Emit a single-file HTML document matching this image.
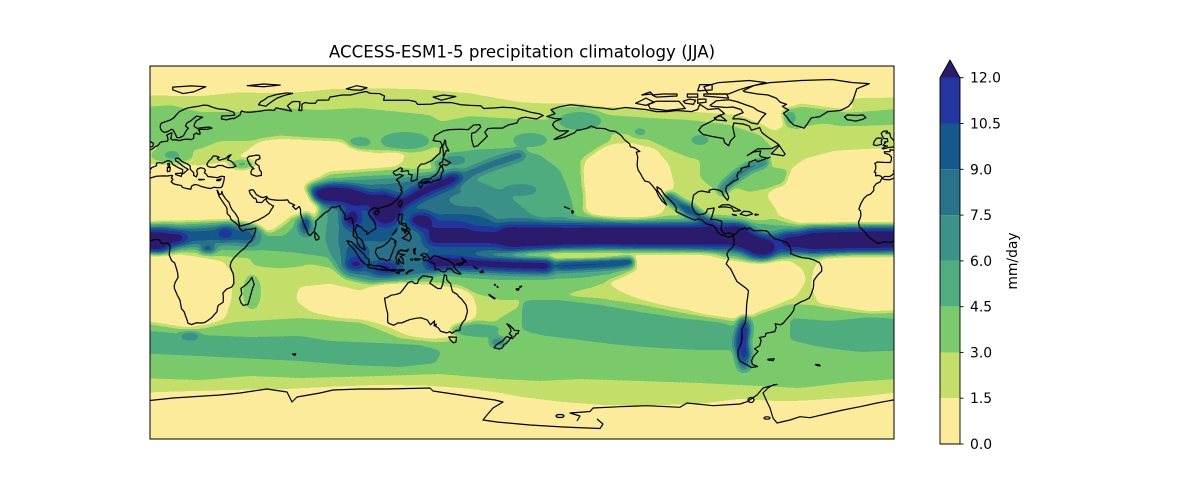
<!DOCTYPE html>
<html>
<head>
<meta charset="utf-8">
<style>
html,body{margin:0;padding:0;background:#fff;}
svg{display:block;}
text{font-family:"DejaVu Sans","Liberation Sans",sans-serif;fill:#000;}
</style>
</head>
<body>
<svg width="1200" height="500" viewBox="0 0 1200 500" xmlns="http://www.w3.org/2000/svg">
<defs>
<clipPath id="frame"><rect x="150" y="66" width="744" height="373"/></clipPath>
<filter id="b3" filterUnits="userSpaceOnUse" x="0" y="0" width="1200" height="500" color-interpolation-filters="sRGB"><feGaussianBlur stdDeviation="3"/></filter>
<filter id="b4" filterUnits="userSpaceOnUse" x="0" y="0" width="1200" height="500" color-interpolation-filters="sRGB"><feGaussianBlur stdDeviation="4"/></filter>
<filter id="b5" filterUnits="userSpaceOnUse" x="0" y="0" width="1200" height="500" color-interpolation-filters="sRGB"><feGaussianBlur stdDeviation="5"/></filter>
<filter id="cm" filterUnits="userSpaceOnUse" x="100" y="40" width="850" height="440" color-interpolation-filters="sRGB">
<feComponentTransfer>
<feFuncR type="discrete" tableValues="0.988 0.765 0.482 0.310 0.235 0.157 0.078 0.141 0.169"/>
<feFuncG type="discrete" tableValues="0.925 0.875 0.796 0.678 0.569 0.447 0.345 0.204 0.106"/>
<feFuncB type="discrete" tableValues="0.604 0.416 0.424 0.498 0.533 0.541 0.549 0.627 0.427"/>
<feFuncA type="linear" slope="0" intercept="1"/>
</feComponentTransfer>
</filter>

<g id="coast" fill="none" stroke="#000" stroke-width="0.6" stroke-linejoin="round" stroke-linecap="round">
<polyline points="35.0,32.0 35.8,34.8 36.0,36.6 34.5,36.8 32.5,36.1 30.5,36.4 28.0,36.7 27.2,37.8 26.3,38.5 26.8,39.6 26.2,40.5 24.5,40.9 23.0,40.3 22.6,39.3 23.0,38.0 22.4,36.5 21.1,37.2 21.2,38.4 19.5,40.2 19.4,41.8 18.0,42.8 15.5,43.9 13.7,45.6 12.3,45.3 12.5,44.2 13.7,43.5 15.5,42.0 17.0,41.0 18.5,40.1 17.1,39.0 16.6,38.4 15.7,38.0 15.8,40.0 14.0,40.8 12.4,41.7 11.0,42.5 10.2,43.9 8.8,44.4 7.5,43.8 6.0,43.1 4.5,43.4 3.1,43.1 3.2,41.9 0.9,41.0 -0.3,39.4 0.2,38.7 -0.7,37.6 -2.0,36.7 -4.5,36.7 -5.6,36.0 -6.3,36.8 -7.5,37.2 -8.9,37.0 -8.8,38.5 -9.5,38.8 -8.8,40.5 -8.8,42.0 -9.3,43.0 -8.0,43.7 -5.0,43.5 -1.8,43.4 -1.3,44.5 -1.2,46.0 -2.2,47.2 -4.5,47.9 -4.7,48.6 -1.9,48.7 -1.9,49.7 -1.0,49.4 0.1,49.5 1.6,50.2 2.5,51.1 3.6,51.5 4.5,52.4 4.8,53.0 6.0,53.5 8.0,53.6 8.7,54.0 8.6,55.5 8.1,56.6 9.9,57.6 10.6,57.7 10.3,56.2 10.0,55.0 10.9,54.3 12.5,54.4 14.0,54.0 16.5,54.6 18.6,54.7 19.8,54.4 21.2,55.2 21.1,56.8 22.5,57.7 23.5,57.0 24.3,57.3 24.0,58.4 23.4,59.2 25.0,59.5 28.0,59.5 30.0,60.0 28.8,60.5 26.5,60.4 22.9,59.9 21.4,60.8 21.5,62.0 22.3,63.5 24.5,64.8 25.5,65.3 22.5,65.8 21.2,64.8 19.7,63.5 17.8,62.5 17.2,61.0 18.6,60.0 17.5,58.8 16.6,57.0 16.0,56.2 14.2,55.4 12.9,55.5 12.6,56.5 11.8,58.0 11.2,59.1 10.4,59.5 9.7,59.0 8.0,58.1 6.6,58.1 5.6,58.8 5.0,60.0 5.0,61.5 5.5,62.4 8.0,63.3 10.0,64.0 11.5,65.0 12.8,66.5 14.0,67.8 15.5,68.6 18.0,69.7 21.0,70.2 23.5,70.6 25.8,71.1 28.0,71.0 30.5,70.0 33.0,69.3 36.5,69.0 40.5,67.7 41.0,66.3 38.0,66.0 34.8,65.9 34.5,64.5 37.0,64.0 40.0,64.8 40.5,64.5 43.5,66.3 44.2,68.3 46.0,67.8 48.5,67.7 53.5,68.2 55.0,68.5 58.0,68.8 60.0,68.5 61.0,69.8 64.0,69.2 67.0,68.5 68.5,68.2 66.5,70.8 68.5,72.5 69.5,72.9 72.5,72.8 72.5,71.0 72.0,68.5 73.5,68.5 73.5,71.5 75.0,72.4 77.0,72.0 80.0,72.0 81.0,73.5 86.5,73.6 87.0,75.0 93.0,76.0 97.0,76.0 101.0,77.0 104.5,77.7 106.5,76.8 111.0,76.7 113.5,75.5 113.0,73.5 118.0,73.5 125.0,73.5 128.5,72.8 129.5,71.5 132.0,71.5 136.0,71.6 140.0,72.4 146.0,72.3 150.5,71.3 155.0,71.0 160.0,70.8 161.5,69.5 167.0,69.8 170.5,70.1 176.0,69.8 180.0,68.9"/>
<polyline points="-180,68.9 -175.5,67.6 -171.5,66.9 -169.7,66.1 -171.0,65.5 -173.0,64.4 -176.0,64.9 -178.5,65.3 -180,65.0"/>
<polyline points="180,65.0 178.5,64.5 177.5,62.5 173.5,61.6 170.5,60.0 166.0,60.0 163.5,59.8 162.0,58.0 163.2,56.1 162.0,54.9 160.0,53.0 158.5,51.5 156.7,51.0 156.0,53.0 155.6,55.0 155.6,57.5 157.5,58.0 160.0,60.5 159.5,61.7 156.5,61.5 154.0,59.3 150.0,59.5 145.0,59.3 142.0,58.7 138.0,56.5 137.0,54.0 140.5,53.5 141.4,52.0 140.5,50.0 140.3,48.0 138.5,46.5 136.5,44.5 133.0,42.8 131.0,42.6 129.7,41.0 129.4,37.0 129.3,35.3 127.5,34.6 126.3,34.5 126.5,36.0 126.8,37.5 125.3,37.7 124.8,39.6 121.5,39.0 122.2,40.5 121.1,40.9 119.5,39.8 118.0,39.1 117.7,38.4 119.0,37.2 120.7,37.8 122.5,37.1 120.4,36.0 119.2,35.0 120.3,34.3 120.9,32.5 121.9,31.0 121.3,30.2 122.0,29.5 121.5,28.2 120.4,26.9 119.6,25.5 118.3,24.5 116.5,23.0 114.2,22.3 112.0,21.7 110.5,21.2 110.2,20.3 109.7,21.5 108.0,21.5 106.6,20.5 105.7,19.0 106.5,17.5 108.5,15.2 109.2,13.0 109.2,11.5 107.5,10.5 106.7,10.0 105.0,8.7 104.8,10.2 103.5,10.6 102.3,12.2 100.9,12.7 100.2,13.5 99.2,10.8 99.8,9.3 100.4,7.3 101.3,6.9 102.5,5.9 103.4,4.0 103.5,2.6 104.2,1.4 103.5,1.3 101.3,2.9 100.4,4.5 100.1,6.5 98.3,8.2 98.5,10.5 98.5,13.5 97.7,16.5 97.2,16.9 95.2,15.8 94.3,16.1 94.5,17.5 94.1,18.8 92.5,20.6 92.0,21.5 91.7,22.6 90.5,22.1 89.0,21.8 88.0,22.0 87.0,20.8 86.0,19.8 84.8,19.3 83.5,18.1 82.2,17.0 80.2,15.1 80.3,13.3 79.8,11.5 79.5,10.3 78.2,8.9 77.5,8.1 76.5,8.9 75.7,11.3 74.8,12.9 74.1,15.0 73.4,16.8 72.8,19.0 72.9,20.7 72.6,21.4 72.2,22.2 70.5,20.8 69.0,22.3 70.0,22.9 68.5,23.6 67.4,24.0 66.6,25.4 64.5,25.2 61.6,25.2 58.8,25.5 57.3,25.9 56.4,27.1 54.8,26.5 53.5,26.8 51.5,27.9 50.1,30.1 48.9,30.3 48.0,29.9 48.4,28.5 49.6,27.0 50.2,26.2 51.1,26.1 51.6,25.2 51.5,24.3 52.6,24.2 54.0,24.1 55.5,25.5 56.3,26.2 56.4,24.9 57.5,23.7 59.0,22.8 59.8,22.4 58.5,20.4 57.7,19.0 56.5,18.1 55.3,17.3 52.2,15.6 49.5,14.6 48.5,14.0 45.5,13.2 43.5,12.7 42.9,14.8 42.7,16.5 41.2,19.0 39.8,20.5 39.0,22.0 38.2,24.2 36.5,26.0 35.2,28.0 34.8,29.5 34.6,28.3 33.6,27.9 32.7,29.9 32.5,30.0"/>
<polyline points="32.5,30.0 32.6,29.5 33.5,27.0 35.5,24.0 37.2,21.5 37.4,18.8 38.6,17.6 39.3,15.8 41.2,14.5 43.2,12.5 43.3,11.8 44.6,10.4 47.0,11.1 49.5,11.3 51.2,11.8 51.0,10.4 50.6,9.0 48.9,5.6 47.5,4.3 46.0,2.3 43.5,0.3 41.5,-1.7 40.1,-3.3 39.2,-4.7 38.8,-6.5 39.4,-8.4 40.3,-10.3 40.5,-12.5 40.6,-15.0 39.5,-16.7 37.0,-17.7 35.3,-19.5 35.5,-22.0 35.4,-24.0 33.0,-25.5 32.6,-27.0 32.4,-28.6 31.2,-29.9 30.0,-31.3 28.0,-32.8 26.4,-33.8 25.0,-34.0 22.6,-33.9 20.0,-34.8 18.4,-34.1 17.9,-32.5 16.5,-28.6 15.2,-27.0 14.5,-23.0 13.3,-20.8 11.8,-17.3 11.7,-16.0 12.2,-14.4 13.6,-12.0 13.3,-9.5 12.3,-6.1 11.9,-5.0 10.5,-4.0 9.3,-1.2 9.5,1.0 9.8,3.1 8.7,4.5 7.0,4.4 5.9,4.3 4.3,6.3 2.7,6.3 1.0,5.9 -2.0,4.8 -4.5,5.2 -7.5,4.4 -9.2,5.3 -11.4,6.8 -13.2,8.5 -13.7,9.5 -15.0,10.8 -16.7,12.4 -17.2,14.7 -16.5,16.1 -16.0,18.0 -16.2,20.0 -17.0,21.0 -16.0,23.7 -14.5,26.2 -13.0,27.6 -11.4,28.1 -9.8,29.9 -9.8,31.6 -8.5,33.3 -6.8,34.0 -5.9,35.8 -4.6,35.2 -2.0,35.1 0.0,35.9 3.0,36.8 6.2,37.0 8.5,36.9 10.2,37.2 11.0,37.0 10.3,36.0 11.1,35.3 10.2,34.2 11.2,33.3 12.5,32.8 15.2,32.3 15.7,31.4 18.0,30.8 19.8,30.5 20.1,32.0 21.5,32.8 23.0,32.6 25.0,31.8 27.5,31.2 29.5,30.9 31.0,31.5 32.3,31.3 34.2,31.3 35.0,32.0"/>
<polygon points="49.3,-12 50.4,-15.5 49.6,-17.3 48.7,-20.6 47.5,-24.9 45.2,-25.6 44,-24.3 43.3,-22 44.4,-20 44,-17.3 46.3,-15.7 48,-13.9"/>
<polygon points="28,41.6 27.5,42.5 28,43.5 28.6,44.3 29.7,45.2 30.5,46.5 31.7,46.6 33.5,46 32.5,45.4 33.5,44.5 35.5,45.1 36.5,45.3 38.2,46.8 39.2,47.2 38,45.7 37.5,44.7 38.8,44.3 40,43.5 41.6,41.6 40,41 38,40.9 36.5,41.3 35,42 33,42 31.3,41.1 29.1,41.2"/>
<polygon points="49,46.5 51.5,47 53,46.8 53.2,45.3 51.3,44.5 51,43 52.7,41.8 53,40 53.9,38.8 53.9,37.2 51.5,36.8 49,37.7 48.8,38.8 49.4,40.2 50.3,40.4 49,41.5 48,42.9 47.5,44 47,45.5 48,46.5"/>
<polygon points="-5,50 -3,50.6 1.3,51.1 1.7,52.7 0.2,53.5 -0.5,54.5 -1.6,55.6 -2.1,57.7 -3.9,57.6 -3.1,58.6 -5,58.6 -6.2,57.5 -5.6,56 -4.9,55 -3.2,54.9 -3,53.5 -4.6,53.3 -4.2,52.9 -5.3,51.7 -3.2,51.4 -4.2,51.2 -5.7,50.1"/>
<polygon points="-6.2,53.9 -6,52.2 -8.5,51.6 -10,52 -9.5,53.8 -8.3,55.2 -6.2,55.2 -5.7,54.5"/>
<polygon points="-22.5,64 -24,65.4 -22.5,66.4 -18,66.1 -15,66.4 -13.6,65.1 -15,64.3 -18.5,63.4 -21,63.9"/>
<polygon points="11,78.5 16,76.7 21,77.5 27,80 20,80.4 11,79.8"/>
<polygon points="52.5,71.3 56,70.6 58.5,72.5 61.5,74.5 65,75.8 69,76.8 66,77 61,76.2 57,75 55,73.5 53.5,72.7"/>
<polygon points="95,79 100,80.5 105,79.5 102,78.3 98,78.5"/>
<polygon points="137,75 142,76 148,75.3 141,73.5"/>
<polygon points="47,80.5 55,81.3 63,80.8 55,80"/>
<polygon points="12.4,38.1 15.6,38.3 15.1,36.7 12.4,37.6"/>
<polygon points="8.4,41 9.8,41 9.6,39.2 8.4,39"/>
<polygon points="8.6,42.9 9.4,43 9.5,41.4 8.8,41.6"/>
<polygon points="23.5,35.3 26.3,35.2 24,35"/>
<polygon points="32.3,35 34.5,35.6 33.8,34.7 32.3,34.7"/>
<polygon points="142,46 143.4,49.3 144.6,49 143.2,51.7 143,54 142.6,54.3 142.3,52.7 141.6,51 142,48 141.9,46.6"/>
<polygon points="141.2,41.4 140,42.6 140.4,43.3 141.6,43.6 141.8,45.4 143.2,44.5 145.5,43.4 145,43 143.3,42 141.7,42.6"/>
<polygon points="141.4,41.4 142,39.5 141,38 140.9,36.5 140.3,35.1 139.8,35 139.2,35.2 138.6,34.6 137,34.6 136.7,34.1 135.7,33.5 135,34.6 133.3,34.4 132,33.9 130.9,34 131.5,34.7 132.6,35.4 134,35.5 135.8,35.6 136.7,36.7 137.3,36.8 138.6,37.8 139.6,39.2 140.1,40.5 140.4,41.2"/>
<polygon points="130,33.6 130.5,31.2 131.2,31.4 131.9,32.8 131,33.9"/>
<polygon points="132.5,33.3 133.5,33.4 134.7,33.8 134.6,34.2 133.2,34.2"/>
<polygon points="121.5,25.2 122,24 121,22 120.2,22.8 120.1,23.7 121,25"/>
<polygon points="108.7,19 109.5,18.2 110.5,18.7 111,19.7 110.2,20.1 109,19.8"/>
<polygon points="79.9,9.8 80.9,8.5 81.8,7.4 81.6,6.3 80.4,6 79.9,6.9 79.7,8.2"/>
<polygon points="120.6,18.5 122.2,18.4 121.9,16.2 121.6,14.3 123.9,13.8 124.1,12.6 123,13 120.9,13.9 120.6,14.5 120,16 120.4,17.6"/>
<polygon points="122,7 123.5,7.8 125.4,9.8 126.5,7.3 126,6.3 125.4,5.6 124,6.2"/>
<polygon points="124.2,12.5 125.8,11 125,10 124.3,10.5"/>
<polygon points="122,11.8 123.2,11 122.5,10.5 121.9,10.9"/>
<polygon points="122.8,10.8 123.5,9.2 124,10.7 123.5,11.2"/>
<polygon points="117.2,8.4 119.5,11.3 118.8,10"/>
<polygon points="109.6,2 109,0 110,-1.8 111,-3 113,-3.2 114.5,-4 116,-3.5 116.5,-2 117.5,0.5 117.9,1.8 119,4 118.2,4.9 119.2,5.3 117.7,6.4 116.7,7 115.6,5.5 115,4.9 113,3.2 111.2,2.4"/>
<polygon points="95.3,5.6 97.5,5.2 100.3,2.2 103.7,-1 104.5,-2.5 106,-3.2 106,-5.8 104.6,-5.9 102.3,-4 100.3,-1 98.6,1.7 96.5,3.7"/>
<polygon points="105.2,-6.8 106,-5.9 108.5,-6.4 110.9,-6.4 112.7,-6.9 114.5,-7.8 114.4,-8.7 111,-8.2 108.7,-7.7 106.5,-7.4"/>
<polygon points="114.5,-8.2 115.7,-8.4 115.2,-8.8"/>
<polygon points="116,-8.4 119,-8.2 119,-8.8 117,-9"/>
<polygon points="120,-8.4 123,-8.3 122.8,-8.8 120,-8.9"/>
<polygon points="119,-9.5 120.8,-9.7 120.2,-10.3"/>
<polygon points="124,-9.9 125.5,-8.7 127.3,-8.4 125,-9.5 124,-10.3"/>
<polygon points="119.4,-5.5 120.4,-5.6 120.3,-2.9 121.3,-4.8 122.7,-5.5 122.4,-3.2 121.1,-2 123.3,-1.0 121.7,-0.9 120.3,-0.5 120.1,0.6 121.2,1.2 124.5,0.5 125.1,1.6 124.1,1.0 120.8,0.9 119.8,-0.1 119.4,-1.5 118.8,-2.8 119.4,-3.5"/>
<polygon points="127.5,1.5 128.5,2 128,0 128.5,-0.8 127.7,-0.3"/>
<polygon points="128,-3 130.8,-3.2 130,-3.6 128.2,-3.6"/>
<polygon points="126,-3.2 127.2,-3.3 126.8,-3.9"/>
<polygon points="131,-1.3 132.5,-0.4 134,-0.9 135.5,-3.4 137.5,-1.5 140.5,-2.4 144.5,-3.8 146,-5 147.6,-6.1 147,-6.8 148,-8.2 150.5,-10.3 149,-10.3 147.2,-9.5 146,-8.1 144,-7.6 143.3,-8.9 142.5,-9.4 141,-9.1 139.5,-8 138,-8.4 137.7,-5.4 136,-4.6 133.6,-3.6 132.7,-4.1 132,-2.8 133.5,-2.3 131.8,-1.6"/>
<polygon points="148.3,-5.6 151,-5 152.2,-4.2 151.3,-5.5 150,-6.3"/>
<polygon points="150.8,-2.6 152.5,-3.8 153,-4.7 151.5,-3.3"/>
<polygon points="156.5,-6.6 157.5,-7.5 158.5,-7.7 157.2,-7.1"/>
<polygon points="159.8,-9.2 160.8,-9.7 159.7,-9.6"/>
<polygon points="160.8,-8.5 161.4,-9.5 161,-9.4"/>
<polygon points="166.8,-15.3 167.2,-15.8 166.6,-15.6"/>
<polygon points="168,-16.3 168.4,-16.9 167.9,-16.6"/>
<polygon points="164,-20.2 167,-22.2 166.5,-22.3 164.2,-20.6"/>
<polygon points="177.3,-17.5 178.6,-17.3 178.3,-18.2 177.2,-18"/>
<polygon points="178.8,-16.5 179.9,-16.2 179.3,-16.8"/>
<polygon points="113.5,-22 114.2,-26.3 115,-29.5 115,-33.5 115.7,-34.3 118,-35.1 119.9,-34 122,-33.9 124,-33 126,-32.3 129,-31.7 131.2,-31.5 134.2,-32.6 135.7,-34.9 137.7,-33 137.5,-35.4 138.5,-34.5 138.2,-35.6 139.6,-36.5 140.6,-38 143.5,-38.8 145,-38.2 146.3,-39 147.7,-37.9 149.9,-37.5 150.2,-35.7 151.3,-33.7 152.5,-32.3 153.6,-28.5 153.1,-26 152.9,-25.3 150.8,-22.5 149.2,-21.1 148.8,-20.3 146.4,-18.9 146,-17.5 145.4,-15 144.5,-14.2 143.6,-13.1 143.5,-11.3 142.5,-10.7 142,-13 141.6,-15.5 140.8,-17.4 139.3,-17.4 137.1,-16 135.4,-14.8 136.8,-12.3 136.5,-11.9 133,-11.4 132,-11.3 130.2,-12.9 129.4,-14.9 128.1,-15 126.8,-13.9 125,-14.5 123.4,-16.6 122.2,-18.2 121,-19.6 118.8,-20.3 116.7,-20.6 114.6,-21.8"/>
<polygon points="144.6,-40.7 148.3,-40.9 148,-43.2 146.9,-43.6 145.3,-42.2"/>
<polygon points="172.7,-34.4 174.3,-35.3 175.8,-36.8 176.3,-37.6 178.5,-37.7 178,-39.2 177,-39.2 176.9,-39.9 175.3,-41.6 174.6,-41.3 175.2,-40.4 173.8,-39.2 174.6,-38.2 174.5,-36.8"/>
<polygon points="172.6,-40.5 174.3,-41.2 173.8,-42.3 172.7,-43.6 171.2,-44.5 170.5,-46 169,-46.6 166.5,-46 167,-45.1 168.3,-44 170.5,-42.8 172,-41"/>
<polygon points="69,-49 70.5,-49 70,-49.7" fill="#000"/>
<polygon points="-168.0,65.6 -164.0,67.0 -166.0,68.9 -162.0,70.3 -156.5,71.3 -152.0,70.8 -145.0,70.0 -141.0,69.7 -136.0,69.0 -130.0,70.0 -125.0,69.5 -120.0,69.0 -115.0,68.0 -110.0,68.0 -105.0,68.5 -98.0,68.0 -95.0,69.0 -94.0,71.5 -90.0,69.0 -85.0,69.5 -82.0,67.0 -85.0,66.0 -87.0,64.0 -93.0,61.0 -94.5,59.0 -92.5,57.0 -88.0,56.0 -82.5,55.0 -82.0,53.0 -80.0,51.5 -79.0,54.0 -77.0,56.0 -77.5,58.0 -78.0,60.5 -77.5,62.5 -73.0,62.0 -70.0,61.0 -69.0,59.0 -65.0,60.3 -64.0,58.0 -61.5,56.0 -57.0,53.0 -55.7,52.0 -59.0,50.2 -66.0,50.0 -71.0,46.8 -68.0,48.5 -64.5,49.0 -65.0,47.0 -64.5,46.3 -61.0,45.5 -60.0,46.0 -66.0,43.8 -67.0,44.8 -70.0,43.5 -70.5,41.8 -70.0,41.7 -74.0,40.6 -74.0,39.5 -75.5,38.5 -76.0,37.0 -75.5,35.3 -77.5,34.5 -79.0,33.3 -81.0,32.0 -81.5,30.0 -80.5,28.0 -80.0,26.5 -80.5,25.2 -81.7,26.5 -82.8,28.0 -83.0,29.2 -84.5,30.0 -86.0,30.4 -88.0,30.5 -89.5,30.0 -89.2,29.0 -90.5,29.2 -93.0,29.7 -94.8,29.3 -97.0,27.7 -97.5,25.0 -97.8,22.5 -97.3,21.0 -96.2,19.2 -94.5,18.2 -92.0,18.6 -90.7,19.5 -90.3,21.0 -87.0,21.5 -87.5,19.5 -88.2,17.0 -88.8,15.9 -86.0,15.9 -83.3,15.0 -83.5,12.5 -83.7,11.0 -82.0,9.0 -79.5,9.5 -77.5,8.5 -78.5,8.0 -80.0,7.3 -81.5,8.0 -83.5,8.5 -85.7,10.0 -85.8,11.3 -87.5,13.0 -91.0,13.9 -93.0,15.7 -94.5,16.2 -96.5,15.7 -99.0,16.7 -101.5,17.8 -105.5,19.8 -105.3,21.5 -106.5,23.3 -108.5,25.5 -111.0,27.8 -112.8,30.5 -114.7,31.7 -114.5,30.0 -112.0,26.5 -110.0,23.0 -112.2,24.8 -114.0,27.5 -115.0,29.8 -117.1,32.5 -118.5,34.0 -120.6,34.5 -121.9,36.6 -122.5,37.8 -123.8,39.8 -124.3,42.0 -124.0,46.2 -124.7,48.4 -123.0,48.8 -125.5,50.5 -127.5,51.0 -128.0,52.5 -130.5,54.5 -132.0,56.5 -135.0,58.5 -137.5,58.7 -140.0,59.8 -144.0,60.0 -146.5,61.0 -148.5,60.0 -151.5,59.2 -153.5,59.0 -154.5,57.8 -156.5,57.0 -159.0,55.8 -162.0,55.0 -164.5,54.5 -163.0,55.5 -160.0,57.0 -157.5,58.7 -162.0,58.7 -164.0,60.0 -165.2,61.5 -164.5,63.0 -161.0,64.5 -164.0,64.6 -166.5,65.3"/>
<polygon points="-77.5,8.5 -76.0,9.5 -75.5,10.5 -74.0,11.2 -72.0,12.0 -71.0,11.0 -70.0,12.0 -68.0,10.5 -64.0,10.6 -62.0,10.5 -61.0,10.0 -60.0,8.5 -58.0,6.8 -55.0,5.9 -52.0,4.8 -51.0,4.0 -50.0,1.8 -50.0,-0.5 -48.5,-1.2 -44.5,-2.5 -41.0,-2.9 -38.5,-3.7 -36.0,-5.0 -35.0,-7.0 -35.0,-9.0 -37.0,-11.0 -38.8,-13.5 -39.0,-17.0 -40.0,-20.0 -41.0,-22.0 -43.0,-23.0 -45.0,-23.8 -48.0,-25.5 -48.6,-28.0 -50.0,-30.0 -52.0,-32.2 -53.5,-34.0 -54.9,-34.9 -57.5,-34.4 -57.0,-36.3 -57.7,-38.2 -62.0,-39.0 -62.3,-40.5 -65.0,-41.0 -64.3,-42.5 -65.0,-45.0 -67.5,-46.5 -65.8,-47.7 -68.0,-50.2 -69.0,-52.3 -68.5,-54.0 -66.0,-55.0 -69.0,-55.5 -71.5,-54.0 -74.5,-52.5 -75.5,-50.0 -75.5,-47.0 -74.0,-44.0 -73.5,-41.0 -73.7,-37.0 -72.0,-34.0 -71.5,-30.0 -71.3,-25.0 -70.4,-18.5 -71.5,-17.3 -76.0,-14.0 -77.0,-12.0 -79.0,-8.0 -81.2,-5.5 -80.0,-3.0 -80.9,-1.0 -80.0,1.0 -79.0,1.6 -78.0,3.0 -77.3,4.0 -77.5,7.0 -77.9,7.2"/>
<polygon points="-73,78 -68,80.5 -60,82 -45,83 -30,83.5 -20,82 -12,81.5 -18,79 -19,76 -20,73 -22,70.5 -26,68.5 -32,68 -36,65.5 -40,65 -42,62 -43.5,60 -46,60.8 -48.5,61.5 -50.5,63.5 -52,65.5 -53.5,67.2 -51,68.8 -54,70.5 -52,71.5 -55,72.5 -57,74.5 -61,76 -66,76.5 -72,77.5"/>
<polygon points="-62,67 -64,65 -66,62 -69,62.5 -72,64 -75,64.5 -78,64.5 -77,66 -73,67.5 -74,69 -78,70.2 -81,70 -88,70.5 -89,71 -86,73.2 -80,73.7 -76,72.8 -71,71 -68,70 -66,68.5"/>
<polygon points="-118,69.5 -119,71.5 -115,73 -104,73 -101,69.5 -110,68.5"/>
<polygon points="-125,72 -120,74.5 -116,72.5 -120,71"/>
<polygon points="-90,76.5 -80,76.5 -75,78.5 -70,80 -62,82 -70,83 -85,82 -92,80"/>
<polygon points="-92,75.5 -80,74.5 -81,76.5 -92,76.5"/>
<polygon points="-86,64 -81,63.5 -84,66 -87,65"/>
<polygon points="-115,75 -105,75.5 -105,76.5 -112,76.5 -117,76"/>
<polygon points="-100,75 -95,75 -95,76.5 -100,76.5"/>
<polygon points="-101,72 -97,71.5 -96,73.5 -99,74 -102,73"/>
<polygon points="-95,72 -91,72.5 -91,74 -95,74"/>
<polygon points="-95,78 -88,78.5 -88,81 -94,81"/>
<polygon points="-122,76 -117,76.5 -118,77.5"/>
<polygon points="-59.4,47.6 -55.5,51.6 -52.7,47.5 -53.5,46.7 -55.5,47"/>
<polygon points="-84.9,21.9 -83,23 -80,23.1 -77,21.6 -74.2,20.2 -77.5,19.9 -78.5,21.5 -81.5,22"/>
<polygon points="-74.4,18.5 -72.7,19.9 -70,19.7 -68.4,18.6 -71.5,17.7"/>
<polygon points="-78.3,18.4 -76.2,18 -76.8,17.9"/>
<polygon points="-67.2,18.5 -65.6,18.3 -67.2,18"/>
<polygon points="-155.9,20.2 -155,19.7 -155.7,18.9"/>
<polyline points="-157,21.1 -158.2,21.5 -159.5,22.1"/>
<polygon points="-61,-51.5 -58,-51.3 -58.5,-52.2 -61,-51.9"/>
<polygon points="-38,-54 -36,-54.2 -35.8,-54.8 -37.5,-54.5"/>
</g>
</defs>

<!-- precipitation field -->
<g clip-path="url(#frame)">
<g filter="url(#cm)">
<rect x="100" y="40" width="850" height="440" fill="#000"/>
<!-- L1 base -->
<g filter="url(#b3)">
<polygon fill="#2b2b2b" points="135,94 200,95 240,91 270,92 300,91 330,88 370,87 420,88 470,92 520,101 560,103 600,105 640,108 700,111 740,114 760,122 775,130 790,120 800,108 830,100 860,97 910,96 910,262 135,262"/>
<polygon fill="#2b2b2b" points="135,252 910,252 910,392 860,398 800,402 770,402 740,400 700,405 640,407 600,406 560,403 520,398 500,394 470,390 430,387 380,386 330,388 290,390 240,391 200,392 135,394"/>
</g>
<!-- dry carves -->
<g filter="url(#b3)" fill="#000">
<polygon points="135,166 175,164 200,167 225,163 245,154 262,140 300,138 330,137 360,140 390,146 405,156 395,168 370,172 345,176 330,182 320,190 313,200 306,220 298,232 285,236 270,236 255,230 240,222 215,221 190,222 165,222 135,222"/>
<polygon points="588,158 605,146 630,144 655,150 668,165 673,185 668,200 660,214 640,222 610,225 592,220 585,205 582,185 583,170"/>
<polygon points="768,195 785,175 805,160 835,152 870,150 910,150 910,226 865,227 830,226 800,224 778,214"/>
<polygon points="135,252 165,252 195,257 222,262 232,275 230,300 224,318 208,325 183,328 160,325 135,322"/>
<polygon points="825,256 850,251 910,251 910,315 870,316 840,314 820,305 812,285 815,268"/>
<polygon points="600,260 640,257 680,255 720,256 750,259 790,262 802,270 805,280 796,295 782,302 765,312 748,320 730,318 710,316 690,310 660,304 640,298 620,290 606,280"/>
<polygon points="300,288 330,285 360,292 385,283 400,276 430,273 455,279 470,290 476,310 471,325 456,335 430,339 410,336 390,326 370,320 340,318 310,310 297,300"/>
<polygon points="765,85 800,88 840,95 855,110 830,125 805,128 790,118 770,105"/>
</g>
<!-- L2 -->
<g filter="url(#b3)">
<g fill="#474747">
<polygon points="135,108 170,105 200,112 240,112 280,108 320,110 360,108 400,112 430,115 446,125 440,146 420,151 400,149 380,153 360,150 340,141 310,139 280,136 250,141 220,141 200,149 180,151 160,146 135,141"/>
<ellipse cx="172" cy="155" rx="22" ry="8"/>
<ellipse cx="242" cy="164" rx="15" ry="5"/>
<polygon points="440,122 470,116 500,118 540,120 580,116 605,122 612,140 595,150 580,160 585,200 580,220 550,222 520,215 500,200 470,188 450,184 440,170"/>
<polygon points="550,108 580,106 610,115 650,118 690,120 730,125 760,135 775,150 765,158 745,160 720,162 690,158 670,150 650,140 620,133 595,135 570,132 552,122"/>
<polygon points="700,160 730,155 760,165 790,170 785,185 760,190 735,195 715,190 700,178"/>
<polygon points="780,112 800,104 830,108 860,112 910,108 910,124 860,126 820,126 795,130"/>
<polygon points="135,226 170,222 200,222 230,221 255,226 270,232 285,222 300,205 305,185 330,172 360,170 400,168 440,170 480,180 520,188 555,200 590,215 620,222 660,224 700,222 730,212 750,208 770,218 800,226 850,226 910,226 910,252 850,252 810,254 780,258 750,262 720,258 680,256 640,256 610,262 590,272 560,282 520,290 480,290 440,285 400,282 360,280 330,268 300,262 270,258 245,258 215,256 190,252 160,252 135,252"/>
<polygon points="135,320 190,330 235,322 300,318 360,322 400,338 440,342 475,338 500,318 530,300 560,296 600,298 650,306 700,316 740,322 760,312 790,304 830,306 870,312 910,310 910,378 850,382 800,388 760,386 740,385 700,383 640,381 580,379 540,381 500,379 440,374 380,376 300,378 250,376 200,380 135,378"/>
<polygon points="440,255 500,258 560,260 620,262 640,268 620,278 590,288 560,295 530,300 500,300 470,292 445,280"/>
<ellipse cx="252" cy="292" rx="9" ry="18"/>
<ellipse cx="280" cy="262" rx="30" ry="6"/>
</g>
<polygon fill="#2b2b2b" points="705,192 730,186 760,195 778,212 765,222 735,222 712,214"/>
<polygon fill="#000" points="495,250 530,248 580,247 620,248 660,250 700,252 725,255 700,259 650,260 600,260 560,258 520,256"/>
</g>
<!-- L3 -->
<g filter="url(#b3)" fill="#636363">
<polygon points="135,330 200,335 250,337 300,336 330,341 380,343 420,345 442,351 436,363 400,367 350,365 300,361 260,359 200,356 135,353"/>
<polygon points="522,300 560,300 600,305 640,312 680,318 720,322 745,330 742,350 700,350 660,348 620,345 580,340 540,335 522,330"/>
<ellipse cx="475" cy="330" rx="25" ry="8"/>
<polygon points="790,318 830,321 870,317 910,320 910,350 860,352 820,347 790,340"/>
<ellipse cx="360" cy="142" rx="12" ry="5"/>
<ellipse cx="405" cy="141" rx="25" ry="9"/>
<ellipse cx="172" cy="155" rx="9" ry="4"/>
<ellipse cx="242" cy="164" rx="8" ry="3"/>
<ellipse cx="530" cy="140" rx="18" ry="7"/>
<ellipse cx="580" cy="121" rx="22" ry="9"/>
<ellipse cx="640" cy="132" rx="7" ry="4"/>
<ellipse cx="700" cy="140" rx="10" ry="5"/>
<ellipse cx="790" cy="118" rx="6" ry="8"/>
<ellipse cx="532" cy="205" rx="12" ry="8"/>
<polygon points="430,160 470,150 510,148 540,155 560,170 570,195 575,215 560,222 530,212 500,200 470,190 445,185"/>
<polygon points="135,232 180,230 230,228 262,236 285,236 295,225 305,205 315,188 335,180 365,178 400,177 440,178 470,188 500,196 530,206 560,220 600,226 650,227 720,225 760,223 800,229 850,229 910,229 910,248 850,249 800,252 770,258 745,258 725,250 700,246 650,245 600,245 560,246 520,248 490,250 460,252 440,258 400,262 360,262 320,256 290,252 260,250 230,250 200,248 170,247 135,247"/>
<polygon points="430,258 470,258 510,261 560,262 600,262 625,266 610,274 580,278 540,279 500,280 470,278 440,274 400,277 370,280 345,276 335,266 345,260 380,262"/>
</g>
<!-- India / Arabian sea dry, tongue re-carve -->
<g filter="url(#b3)" fill="#000">
<polygon points="258,178 285,178 300,188 312,194 320,200 318,212 313,222 310,232 305,228 300,216 290,214 275,216 258,212"/>
<polygon points="505,250 540,249 580,249 620,250 660,251 700,252 725,256 700,258 650,258 600,258 560,257 520,256"/>
</g>
<!-- L4-L7 -->
<g filter="url(#b3)">
<polygon fill="#808080" points="328,186 350,180 380,178 410,176 440,172 470,178 500,190 520,205 540,222 560,228 560,247 520,252 480,256 455,265 430,276 400,280 370,282 345,276 333,262 325,240 328,215 322,200"/>
<polygon fill="#9c9c9c" points="336,192 360,186 390,184 420,180 445,182 465,192 480,208 500,222 525,230 525,248 490,252 460,258 440,270 410,276 380,278 355,272 342,260 338,240 340,220"/>
<ellipse cx="470" cy="200" rx="22" ry="7" fill="#808080"/>
<ellipse cx="520" cy="190" rx="18" ry="6" fill="#808080"/>
<ellipse cx="455" cy="160" rx="12" ry="5" fill="#808080"/>
<path d="M450,182 L490,165 L520,155" stroke="#9c9c9c" stroke-width="10" stroke-linecap="round" fill="none"/>
<polygon fill="#b8b8b8" points="345,198 380,194 400,198 398,230 385,242 360,240 345,225"/>
<ellipse cx="455" cy="226" rx="40" ry="12" fill="#b8b8b8"/>
<ellipse cx="385" cy="268" rx="20" ry="6" fill="#b8b8b8"/>
<ellipse cx="358" cy="252" rx="12" ry="9" fill="#b8b8b8"/>
<ellipse cx="445" cy="228" rx="28" ry="8" fill="#d4d4d4"/>
<path d="M135,238 L180,237 L230,234 L252,236" stroke="#808080" stroke-width="22" stroke-linecap="round" fill="none"/>
<path d="M135,238 L180,237 L230,234 L248,236" stroke="#b8b8b8" stroke-width="13" stroke-linecap="round" fill="none"/>
<path d="M668,197 L680,205 L695,214 L712,225" stroke="#b8b8b8" stroke-width="9" stroke-linecap="round" fill="none"/>
<path d="M722,190 L735,177 L750,167 L765,162" stroke="#9c9c9c" stroke-width="8" stroke-linecap="round" fill="none"/>
<path d="M560,266 L600,264 L630,262" stroke="#d4d4d4" stroke-width="9" stroke-linecap="round" fill="none"/>
<path d="M770,244 L810,242 L850,240 L910,239" stroke="#9c9c9c" stroke-width="20" stroke-linecap="round" fill="none"/>
<path d="M744,322 L740,345 L744,365" stroke="#9c9c9c" stroke-width="12" stroke-linecap="round" fill="none"/>
<ellipse cx="158" cy="248" rx="9" ry="3.5" fill="#d4d4d4"/>
<ellipse cx="208" cy="249" rx="8" ry="3" fill="#d4d4d4"/>
<ellipse cx="498" cy="342" rx="8" ry="4" fill="#9c9c9c"/>
<ellipse cx="190" cy="336" rx="10" ry="3" fill="#9c9c9c"/>
</g>
<!-- strong features -->
<g filter="url(#b4)" fill="#fff">
<polygon points="310,188 330,184 350,186 368,192 372,204 360,207 345,204 328,204 314,201"/>
<polygon points="368,194 385,192 400,198 403,212 395,222 383,226 372,218"/>
<ellipse cx="352" cy="218" rx="8" ry="8"/>
<ellipse cx="421" cy="220" rx="13" ry="7"/>
<path d="M398,206 L420,193 L440,184 L455,178" stroke="#fff" stroke-width="11" stroke-linecap="round" fill="none"/>
<ellipse cx="306" cy="224" rx="5" ry="10"/>
<polygon points="728,228 745,230 760,234 775,240 778,252 765,259 752,257 742,250 733,242"/>
<path d="M432,262 L470,263 L510,265 L548,266" stroke="#fff" stroke-width="13" stroke-linecap="round" fill="none"/>
<ellipse cx="356" cy="264" rx="11" ry="5"/>
<ellipse cx="385" cy="268" rx="12" ry="4"/>
<path d="M745,328 L742,342 L745,356" stroke="#fff" stroke-width="8" stroke-linecap="round" fill="none"/>
<ellipse cx="178" cy="238" rx="9" ry="5"/>
<ellipse cx="225" cy="233" rx="6" ry="4"/>
<ellipse cx="152" cy="243" rx="7" ry="4"/>
<ellipse cx="688" cy="210" rx="4" ry="3"/>
</g>
<g filter="url(#b5)" fill="none" stroke="#fff" stroke-linecap="round">
<path d="M433,238 L515,238" stroke-width="16"/>
<path d="M508,237 L600,236 L680,236 L738,236" stroke-width="26"/>
<path d="M785,242 L815,241" stroke-width="16"/>
<path d="M810,241 L850,240 L915,239.5" stroke-width="23"/>
<path d="M128,240 L165,240" stroke-width="20"/>
</g>
</g>
</g>

<!-- coastlines -->
<g clip-path="url(#frame)">
<use href="#coast" transform="translate(150,252.5) scale(2.06667,-2.07222)"/>
<use href="#coast" transform="translate(894,252.5) scale(2.06667,-2.07222)"/>
<g fill="none" stroke="#000" stroke-width="1.2" stroke-linejoin="round">
<polyline points="140,400 150,400.5 173,398 220,395 240,393 267,389 287,392 292,402 297,397 320,393 333,390 360,389 387,389 430,388 433,391 473,397 495,400 503,402 493,408 487,415 483,420 497,422 530,425 563,427 600,428.5 603,424 597,419"/>
<polyline points="577,421 580,416 570,413 590,411.5 593,408 620,406.7 647,405.7 680,407.3 687,403 713,405.7 740,404 747,401.7 757,395 763,388 777,384.3 773,385 768,388 763,393 767,401.7 770,408 773,418 777,423 790,420 800,416.7 810,417.7 830,413 843,410 860,406.7 877,403 893,400 905,399.5"/>
<ellipse cx="560" cy="416" rx="4" ry="1.5"/>
<ellipse cx="751" cy="400" rx="3" ry="2.5"/>
<ellipse cx="767" cy="418" rx="3" ry="1.2"/>
</g>
</g>

<rect x="150" y="66" width="744" height="373" fill="none" stroke="#000" stroke-width="1"/>

<text x="522" y="57.5" text-anchor="middle" font-size="16.67">ACCESS-ESM1-5 precipitation climatology (JJA)</text>

<g>
<rect x="940" y="77.7" width="20" height="45.8" fill="#2434a0"/>
<rect x="940" y="123.5" width="20" height="45.8" fill="#14588c"/>
<rect x="940" y="169.3" width="20" height="45.8" fill="#28728a"/>
<rect x="940" y="215.1" width="20" height="45.8" fill="#3c9188"/>
<rect x="940" y="260.9" width="20" height="45.8" fill="#4fad7f"/>
<rect x="940" y="306.7" width="20" height="45.8" fill="#7bcb6c"/>
<rect x="940" y="352.4" width="20" height="45.8" fill="#c3df6a"/>
<rect x="940" y="398.2" width="20" height="45.8" fill="#fcec9a"/>
<polygon points="940,77.9 950,60 960,77.9" fill="#2b1b6d"/>
<polygon points="940,444 940,77.7 950,60 960,77.7 960,444" fill="none" stroke="#000" stroke-width="0.9"/>
<g stroke="#000" stroke-width="0.9">
<line x1="960" y1="77.7" x2="963.5" y2="77.7"/>
<line x1="960" y1="123.5" x2="963.5" y2="123.5"/>
<line x1="960" y1="169.3" x2="963.5" y2="169.3"/>
<line x1="960" y1="215.1" x2="963.5" y2="215.1"/>
<line x1="960" y1="260.9" x2="963.5" y2="260.9"/>
<line x1="960" y1="306.7" x2="963.5" y2="306.7"/>
<line x1="960" y1="352.4" x2="963.5" y2="352.4"/>
<line x1="960" y1="398.2" x2="963.5" y2="398.2"/>
<line x1="960" y1="444" x2="963.5" y2="444"/>
</g>
<g font-size="13.9">
<text x="970" y="82.7">12.0</text>
<text x="970" y="128.5">10.5</text>
<text x="970" y="174.3">9.0</text>
<text x="970" y="220.1">7.5</text>
<text x="970" y="265.9">6.0</text>
<text x="970" y="311.7">4.5</text>
<text x="970" y="357.4">3.0</text>
<text x="970" y="403.2">1.5</text>
<text x="970" y="449">0.0</text>
</g>
<text transform="translate(1013,261) rotate(-90)" text-anchor="middle" dominant-baseline="central" font-size="13.9">mm/day</text>
</g>
</svg>
</body>
</html>
